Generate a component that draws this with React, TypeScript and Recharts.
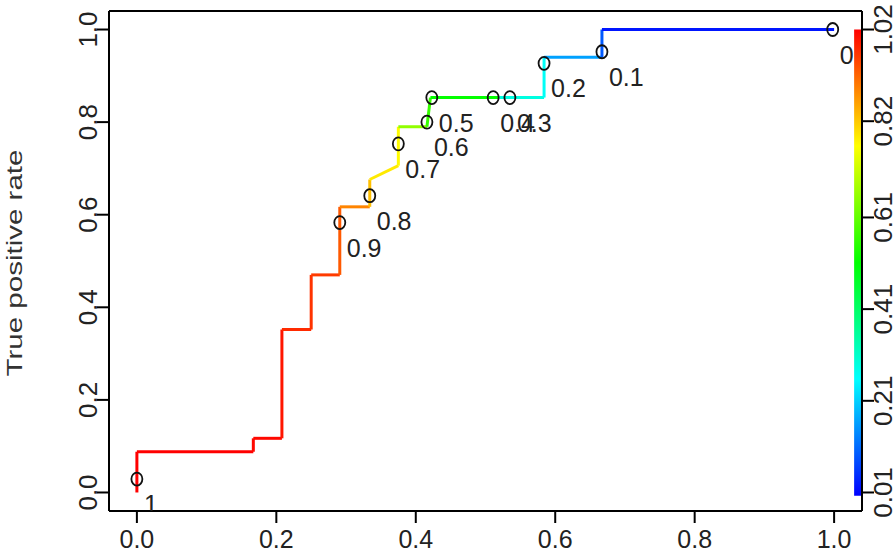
import React from 'react';
import {
  ComposedChart,
  Line,
  Scatter,
  XAxis,
  YAxis,
  ReferenceArea,
  ReferenceLine
} from 'recharts';

// ROC curve vertices (false positive rate, true positive rate)
const fprPoints = [0, 0, 0.167, 0.167, 0.208, 0.208, 0.25, 0.25, 0.291, 0.291, 0.334, 0.334, 0.375, 0.375, 0.416, 0.421, 0.52, 0.584, 0.584, 0.667, 0.667, 1.0];
const tprPoints = [0, 0.088, 0.088, 0.117, 0.117, 0.352, 0.352, 0.47, 0.47, 0.617, 0.617, 0.676, 0.706, 0.79, 0.79, 0.853, 0.853, 0.853, 0.94, 0.94, 1.0, 1.0];
// cutoff used to colour each segment between consecutive vertices
const segmentCutoffs = [1.02, 1.02, 1.01, 1.01, 1.0, 0.98, 0.97, 0.96, 0.93, 0.89, 0.83, 0.79, 0.77, 0.66, 0.57, 0.52, 0.29, 0.27, 0.17, 0.1, 0.03];

// printed cutoffs
const cutoffLabels = ['1', '0.9', '0.8', '0.7', '0.6', '0.5', '0.4', '0.3', '0.2', '0.1', '0'];
const cutoffFpr = [0, 0.291, 0.334, 0.375, 0.416, 0.423, 0.511, 0.535, 0.584, 0.667, 0.998];
const cutoffTpr = [0.029, 0.583, 0.641, 0.753, 0.8, 0.853, 0.853, 0.853, 0.927, 0.952, 1.0];

const axisTicks = [0, 0.2, 0.4, 0.6, 0.8, 1.0];
const colorbarTicks = [0.01, 0.21, 0.41, 0.61, 0.82, 1.02];
const cutoffMin = 0.01;
const cutoffMax = 1.02;

const FONT = '"Liberation Sans", Arial, sans-serif';

const cutoffColor = (c: number) => {
  const hue = (240 * (cutoffMax - c)) / (cutoffMax - cutoffMin);
  return `hsl(${hue.toFixed(0)}, 100%, 50%)`;
};

const segments = segmentCutoffs.map((c, i) => ({
  color: cutoffColor(c),
  data: [
    { x: fprPoints[i], y: tprPoints[i] },
    { x: fprPoints[i + 1], y: tprPoints[i + 1] }
  ]
}));

const circles = cutoffLabels.map((label, i) => ({
  x: cutoffFpr[i],
  y: cutoffTpr[i],
  label
}));

const XTick = ({ x, payload }: any) => (
  <text x={x} y={548} textAnchor="middle" fontSize={25} fontFamily={FONT} fill="#222">
    {Number(payload.value).toFixed(1)}
  </text>
);

const LeftTick = ({ y, payload }: any) => (
  <text
    x={97}
    y={y}
    transform={`rotate(-90, 97, ${y})`}
    textAnchor="middle"
    fontSize={26}
    fontFamily={FONT}
    fill="#222"
  >
    {Number(payload.value).toFixed(1)}
  </text>
);

const RightTick = ({ y, payload }: any) => (
  <text
    x={892}
    y={y}
    transform={`rotate(-90, 892, ${y})`}
    textAnchor="middle"
    fontSize={26}
    fontFamily={FONT}
    fill="#222"
  >
    {Number(payload.value).toFixed(2)}
  </text>
);

const CutoffMark = ({ cx, cy, payload }: any) => (
  <g>
    <ellipse cx={cx} cy={cy} rx={5.5} ry={6.5} fill="none" stroke="#111" strokeWidth={1.8} />
    <text x={cx + 7} y={cy + 34} fontSize={25} fontFamily={FONT} fill="#222">
      {payload.label}
    </text>
  </g>
);

const App: React.FC = () => {
  return (
    <div style={{ position: 'absolute', left: 0, top: 0, width: 894, height: 552, background: '#fff' }}>
      <ComposedChart width={894} height={552} margin={{ top: 11, right: 0, bottom: 0, left: 0 }}>
        <defs>
          <linearGradient id="cbGrad" x1="0" y1="0" x2="0" y2="1">
            <stop offset="0%" stopColor="hsl(0,100%,50%)" />
            <stop offset="25%" stopColor="hsl(60,100%,50%)" />
            <stop offset="50%" stopColor="hsl(120,100%,50%)" />
            <stop offset="75%" stopColor="hsl(180,100%,50%)" />
            <stop offset="100%" stopColor="hsl(240,100%,50%)" />
          </linearGradient>
        </defs>
        <XAxis
          dataKey="x"
          type="number"
          domain={[-0.04, 1.04]}
          ticks={axisTicks}
          height={41}
          tickSize={12}
          tick={<XTick />}
          axisLine={{ stroke: '#000', strokeWidth: 2 }}
          tickLine={{ stroke: '#000', strokeWidth: 2 }}
          allowDataOverflow
        />
        <YAxis
          yAxisId="left"
          dataKey="y"
          type="number"
          domain={[-0.04, 1.04]}
          ticks={axisTicks}
          width={109}
          tickSize={12}
          tick={<LeftTick />}
          axisLine={{ stroke: '#000', strokeWidth: 2 }}
          tickLine={{ stroke: '#000', strokeWidth: 2 }}
          allowDataOverflow
          label={{
            value: 'True positive rate',
            angle: -90,
            position: 'insideLeft',
            content: () => (
              <text
                x={22}
                y={263}
                transform="rotate(-90, 22, 263)"
                textAnchor="middle"
                fontSize={22}
                textLength={227}
                lengthAdjust="spacingAndGlyphs"
                fontFamily={FONT}
                fill="#333"
              >
                True positive rate
              </text>
            )
          }}
        />
        <YAxis
          yAxisId="cb"
          orientation="right"
          type="number"
          domain={[cutoffMin - 1.01 * 0.04, cutoffMin + 1.01 * 1.04]}
          ticks={colorbarTicks}
          width={32}
          tickSize={12}
          tick={<RightTick />}
          axisLine={{ stroke: '#000', strokeWidth: 2 }}
          tickLine={{ stroke: '#000', strokeWidth: 2 }}
          allowDataOverflow
        />
        <ReferenceLine yAxisId="left" y={1.04} stroke="#000" strokeWidth={2} ifOverflow="visible" />
        <ReferenceArea
          yAxisId="cb"
          x1={1.0287}
          x2={1.0387}
          y1={0.003}
          y2={cutoffMax}
          fill="url(#cbGrad)"
          fillOpacity={1}
          stroke="none"
          ifOverflow="visible"
        />
        {segments.map((s, i) => (
          <Line
            key={i}
            yAxisId="left"
            data={s.data}
            dataKey="y"
            type="linear"
            stroke={s.color}
            strokeWidth={3}
            dot={false}
            activeDot={false}
            isAnimationActive={false}
          />
        ))}
        <Scatter
          yAxisId="left"
          data={circles}
          shape={<CutoffMark />}
          isAnimationActive={false}
        />
      </ComposedChart>
    </div>
  );
};

export default App;
